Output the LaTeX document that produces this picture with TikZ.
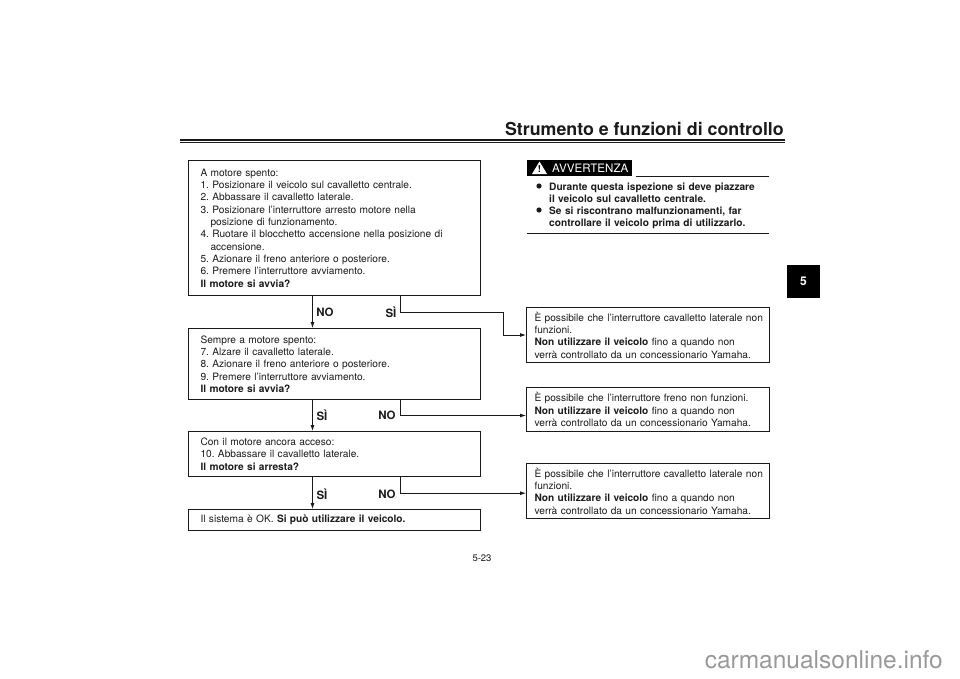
\documentclass[tikz,border=0pt]{standalone}
\usepackage{fontspec}
\setmainfont{TeX Gyre Heros}
\usepackage{tikz}
\usetikzlibrary{arrows.meta}
\definecolor{inkBlack}{HTML}{1A1A1A}
\definecolor{markGray}{HTML}{999999}
\newcommand{\bodyfont}{\frenchspacing\fontsize{10.15}{12.3}\selectfont}
\newcommand{\warnrow}[2]{\makebox[#1pt][s]{#2}}
\newcommand{\longrow}[1]{\makebox[227pt][l]{#1}}
\begin{document}
\begin{tikzpicture}[
    x=1pt,y=-1pt,
    >={Latex[length=6pt,width=4pt]},
    every node/.style={text=inkBlack,font=\bodyfont},
    stepbox/.style={rectangle,draw=inkBlack,line width=1pt,anchor=north west,
                  minimum width=292pt,text width=268pt,inner xsep=12pt,inner ysep=2pt,align=left},
    notebox/.style={rectangle,draw=inkBlack,line width=1pt,anchor=north west,
                  minimum width=243pt,text width=227pt,inner xsep=8pt,inner ysep=2pt,align=left},
    answer/.style={font=\fontsize{11.5}{12}\selectfont\bfseries},
    warnline/.style={anchor=north west,text width=215pt,inner sep=0pt,align=left,
                  font=\frenchspacing\fontsize{10.15}{12.1}\selectfont\bfseries},
    link/.style={draw=inkBlack,line width=0.8pt,->}
  ]
  \useasboundingbox (0,0) rectangle (960,678);
  %% Page header
  \node[anchor=base east,inner sep=0pt,font=\fontsize{17.8}{20}\selectfont\bfseries] (title) at (784,135)
    {Strumento e funzioni di controllo};
  \draw[inkBlack,line width=2pt] (180,140) -- (785,140);
  \draw[inkBlack,line width=0.7pt] (180,142.6) -- (785,142.6);
  %% Section tab
  \node[rectangle,fill=black,text=white,minimum size=33pt,inner sep=0pt,
    font=\fontsize{12}{12}\selectfont\bfseries] (tab) at (803.5,281) {5};
  %% Step boxes
  \node[stepbox,minimum height=135pt] (step1) at (188,160) {A motore spento:\\
    1. Posizionare il veicolo sul cavalletto centrale.\\
    2. Abbassare il cavalletto laterale.\\
    3. Posizionare l’interruttore arresto motore nella\\
    \hspace*{10pt}posizione di funzionamento.\\
    4. Ruotare il blocchetto accensione nella posizione di\\
    \hspace*{10pt}accensione.\\
    5. Azionare il freno anteriore o posteriore.\\
    6. Premere l’interruttore avviamento.\\
    \textbf{Il motore si avvia?}};
  \node[stepbox,minimum height=71pt] (step2) at (188,328) {Sempre a motore spento:\\
    7. Alzare il cavalletto laterale.\\
    8. Azionare il freno anteriore o posteriore.\\
    9. Premere l’interruttore avviamento.\\
    \textbf{Il motore si avvia?}};
  \node[stepbox,minimum height=45pt] (step3) at (188,431) {Con il motore ancora acceso:\\
    10. Abbassare il cavalletto laterale.\\
    \textbf{Il motore si arresta?}};
  \node[stepbox,minimum height=21pt] (step4) at (188,509)
    {Il sistema è OK. \textbf{Si può utilizzare il veicolo.}};
  %% Notes on the right
  \node[notebox,minimum height=55pt] (note1) at (526,307) {\longrow{È possibile che l’interruttore cavalletto laterale non}\\
    funzioni.\\
    \textbf{Non utilizzare il veicolo} fino a quando non\\
    verrà controllato da un concessionario Yamaha.};
  \node[notebox,minimum height=44pt] (note2) at (526,387) {È possibile che l’interruttore freno non funzioni.\\
    \textbf{Non utilizzare il veicolo} fino a quando non\\
    verrà controllato da un concessionario Yamaha.};
  \node[notebox,minimum height=55pt] (note3) at (526,463) {\longrow{È possibile che l’interruttore cavalletto laterale non}\\
    funzioni.\\
    \textbf{Non utilizzare il veicolo} fino a quando non\\
    verrà controllato da un concessionario Yamaha.};
  %% Connectors
  \draw[link] ([xshift=-22pt]step1.south) -- ([xshift=-22pt]step2.north);
  \draw[link] ([xshift=-22pt]step2.south) -- ([xshift=-22pt]step3.north);
  \draw[link] ([xshift=-22pt]step3.south) -- ([xshift=-22pt]step4.north);
  \draw[link] ([xshift=66pt]step1.south) |- ([xshift=-23pt,yshift=22.7pt]note1.west) |- (note1.west);
  \draw[link] ([xshift=66pt]step2.south) |- ([yshift=-6pt]note2.west);
  \draw[link] ([xshift=66pt]step3.south) |- ([yshift=-2.2pt]note3.west);
  %% Answers
  \node[answer] (no1) at (325,312) {NO};
  \node[answer] (si1) at (391,312) {SÌ};
  \node[answer] (si2) at (322,415) {SÌ};
  \node[answer] (no2) at (387,415) {NO};
  \node[answer] (si3) at (322,494) {SÌ};
  \node[answer] (no3) at (387,494) {NO};
  %% Warning block
  \node[rectangle,fill=black,anchor=north west,minimum width=105pt,minimum height=16pt,inner sep=0pt] (warnbox) at (527,160) {};
  \fill[white] (532,174) -- (547,174) -- (539.5,161.5) -- cycle;
  \node[inner sep=0pt,text=black,font=\fontsize{9.5}{10}\selectfont\bfseries] (warnmark) at (539.5,169) {!};
  \node[inner sep=0pt,text=white,anchor=west,font=\fontsize{11.6}{12}\selectfont] (warnword) at (552,168.5) {AVVERTENZA};
  \draw[inkBlack,line width=0.9pt] (636,176) -- (769,176);
  \fill[inkBlack] (539,186) circle (2.6);
  \node[warnline] (warn1) at (549,182.5) {\warnrow{207}{Durante questa ispezione si deve piazzare}\\il veicolo sul cavalletto centrale.};
  \fill[inkBlack] (539,210) circle (2.6);
  \node[warnline] (warn2) at (549,206.5) {\warnrow{192}{Se si riscontrano malfunzionamenti, far}\\\warnrow{197}{controllare il veicolo prima di utilizzarlo.}};
  \draw[inkBlack,line width=0.9pt] (527,233) -- (769,233);
  %% Page number and site mark
  \node[font=\fontsize{9.5}{10}\selectfont] (pagenum) at (482,558) {5-23};
  \node[anchor=base east,inner sep=0pt,text=markGray,font=\fontsize{24.5}{25}\selectfont] (sitemark) at (943,668) {carmanualsonline.info};
\end{tikzpicture}
\end{document}
